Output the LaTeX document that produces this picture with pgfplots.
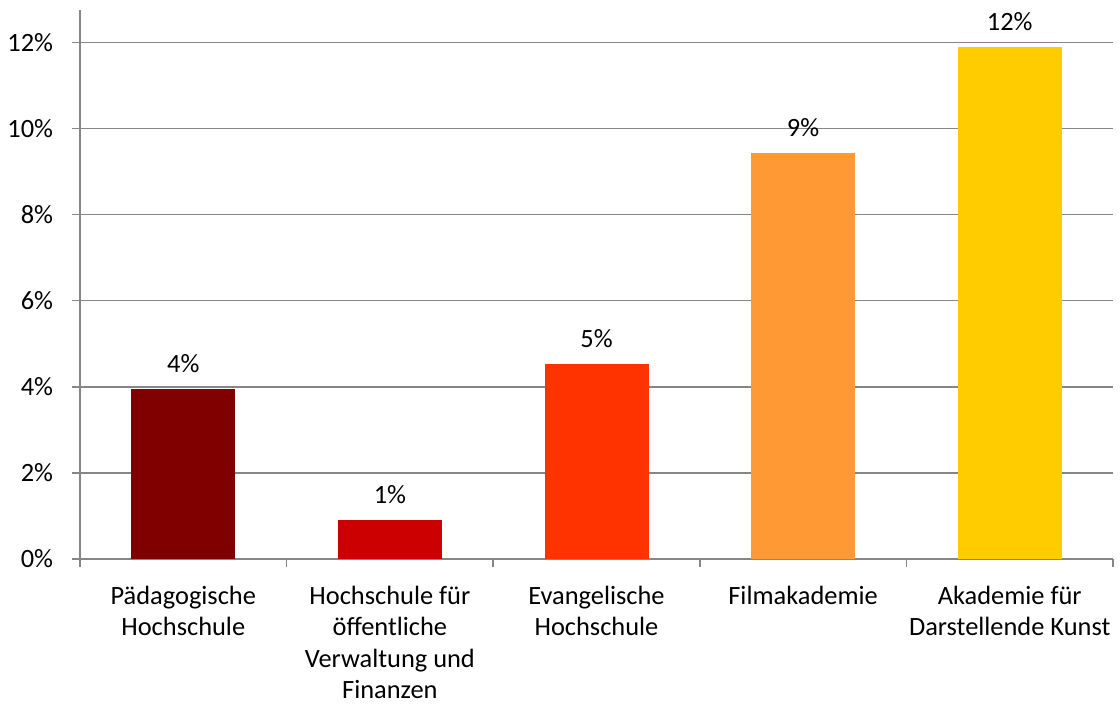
\documentclass[border=0pt]{standalone}
\usepackage{pgfplots}
\pgfplotsset{compat=1.18}
\usepackage{fontspec}
\setmainfont{Carlito}

\definecolor{gridgray}{HTML}{868686}
\definecolor{cPH}{HTML}{800000}
\definecolor{cHVF}{HTML}{CC0000}
\definecolor{cEH}{HTML}{FF3300}
\definecolor{cFA}{HTML}{FF9933}
\definecolor{cADK}{HTML}{FFCC00}

\newcommand{\chartfont}{\fontsize{19.8}{23.6}\selectfont}

\begin{document}
\begin{tikzpicture}
\useasboundingbox (-60pt,-108.75pt) rectangle (780pt,419.25pt);
\begin{axis}[
  at={(0pt,0pt)}, anchor=south west,
  scale only axis,
  width=774.75pt, height=411.75pt,
  xmin=-0.5, xmax=4.5,
  ymin=0, ymax=12.75,
  axis x line*=bottom,
  axis y line*=left,
  axis line style={gridgray, line width=1.1pt},
  ytick={0,2,4,6,8,10,12},
  yticklabels={0\%,2\%,4\%,6\%,8\%,10\%,12\%},
  xtick={-0.5,0.5,1.5,2.5,3.5,4.5},
  x tick label as interval,
  xticklabels={
    {Pädagogische\\Hochschule},
    {Hochschule für\\öffentliche\\Verwaltung und\\Finanzen},
    {Evangelische\\Hochschule},
    {Filmakademie},
    {Akademie für\\Darstellende Kunst}},
  tick align=outside,
  major tick length=6pt,
  tick style={gridgray, line width=1.1pt},
  ymajorgrids,
  grid style={gridgray, line width=1.1pt},
  yticklabel style={font=\chartfont, anchor=east, inner sep=0pt, xshift=-14pt},
  xticklabel style={font=\chartfont, anchor=north, inner sep=0pt, yshift=-14pt,
                    align=center},
  ybar,
  bar width=78pt,
  bar shift=0pt,
  nodes near coords={\pgfmathprintnumber[fixed,precision=0,assume math mode=true]{\pgfplotspointmeta}\%},
  every node near coord/.append style={font=\chartfont, anchor=south,
                    inner sep=0pt, yshift=12pt, text=black},
]
\addplot[draw=none, fill=cPH]  coordinates {(0,3.95)};
\addplot[draw=none, fill=cHVF] coordinates {(1,0.91)};
\addplot[draw=none, fill=cEH]  coordinates {(2,4.52)};
\addplot[draw=none, fill=cFA]  coordinates {(3,9.42)};
\addplot[draw=none, fill=cADK] coordinates {(4,11.88)};
\end{axis}
\end{tikzpicture}
\end{document}
